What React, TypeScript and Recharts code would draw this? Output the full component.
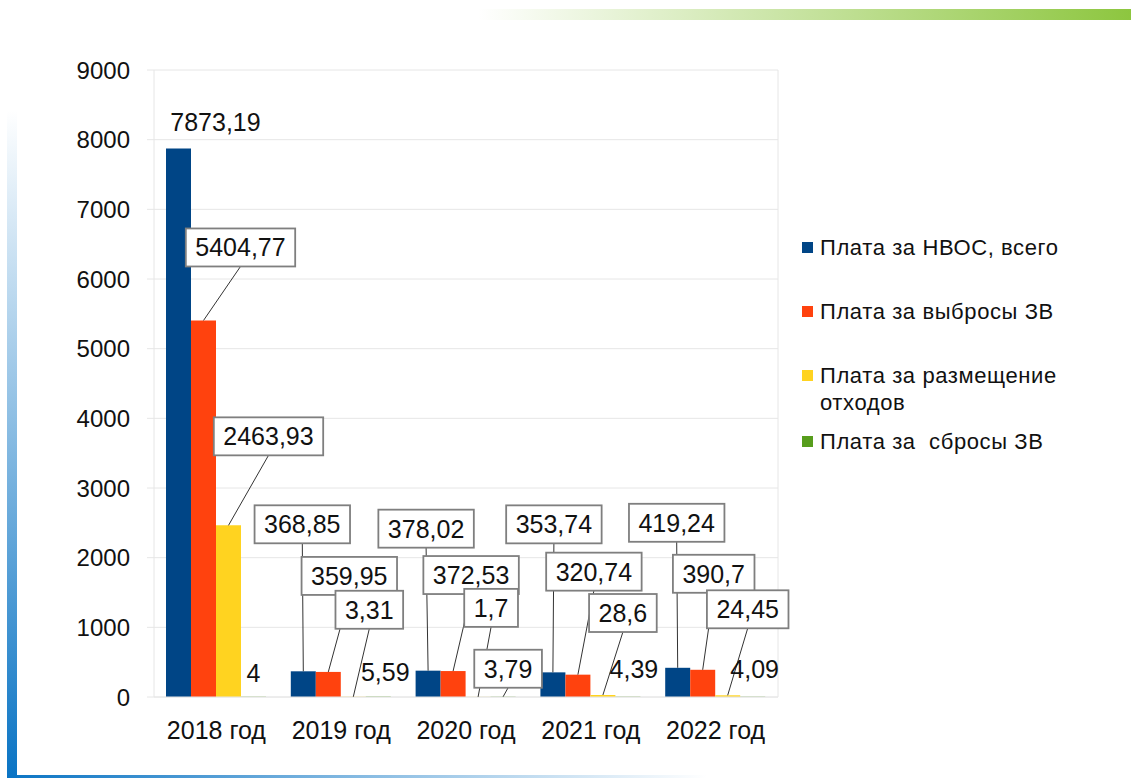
import React from "react";
import {
    BarChart,
    Bar,
    XAxis,
    YAxis,
    CartesianGrid,
    Legend,
    LabelList,
} from "recharts";

const years = ["2018 год", "2019 год", "2020 год", "2021 год", "2022 год"];
const nvosTotal = [7873.19, 368.85, 378.02, 353.74, 419.24];
const emissions = [5404.77, 359.95, 372.53, 320.74, 390.7];
const wastePlacement = [2463.93, 3.31, 1.7, 28.6, 24.45];
const discharges = [4, 5.59, 3.79, 4.39, 4.09];

const seriesNames = [
    "Плата за НВОС, всего",
    "Плата за выбросы ЗВ",
    "Плата за размещение отходов",
    "Плата за  сбросы ЗВ",
];
const seriesKeys = ["nvos", "emissions", "waste", "discharges"];
const seriesColors = ["#004586", "#ff420e", "#ffd320", "#579d1c"];
const yTicks = [0, 1000, 2000, 3000, 4000, 5000, 6000, 7000, 8000, 9000];

const data = years.map((year, i) => ({
    year,
    nvos: nvosTotal[i],
    emissions: emissions[i],
    waste: wastePlacement[i],
    discharges: discharges[i],
}));

const FONT = '"Liberation Sans", Arial, sans-serif';
const LABEL_SIZE = 25;
const BOX_H = 38;

// where each data label sits, relative to the top centre of its bar
type LabelPos = { dx: number; dy: number; boxed: boolean };
const labelPos: LabelPos[][] = [
    [
        { dx: 37, dy: -27, boxed: false },
        { dx: -1, dy: -147, boxed: true },
        { dx: -2, dy: -142, boxed: true },
        { dx: 1, dy: -148, boxed: true },
        { dx: -1, dy: -145, boxed: true },
    ],
    [
        { dx: 37, dy: -73, boxed: true },
        { dx: 21, dy: -96, boxed: true },
        { dx: 18, dy: -96, boxed: true },
        { dx: 16, dy: -103, boxed: true },
        { dx: 11, dy: -96, boxed: true },
    ],
    [
        { dx: 40, dy: -89, boxed: true },
        { dx: 16, dy: -87, boxed: true },
        { dx: 13, dy: -89, boxed: true },
        { dx: 20, dy: -82, boxed: true },
        { dx: 20, dy: -86, boxed: true },
    ],
    [
        { dx: 0, dy: -24, boxed: false },
        { dx: 7, dy: -25, boxed: false },
        { dx: 5, dy: -28, boxed: true },
        { dx: 6, dy: -28, boxed: false },
        { dx: 2, dy: -28, boxed: false },
    ],
];

const legendGaps = [0, 37, 37, 12];

let measureCtx: CanvasRenderingContext2D | null = null;
function textWidth(s: string) {
    if (!measureCtx) {
        measureCtx = document.createElement("canvas").getContext("2d");
    }
    if (!measureCtx) return s.length * LABEL_SIZE * 0.55;
    measureCtx.font = `${LABEL_SIZE}px "Liberation Sans", Arial`;
    return measureCtx.measureText(s).width;
}

const fmt = (v: number) => String(v).replace(".", ",");

function makeLabel(series: number) {
    return (props: any) => {
        const vb = props.viewBox || props;
        const idx = props.index;
        const pos = labelPos[series][idx];
        if (!pos || vb.x == null) return null;
        const cx = vb.x + vb.width / 2;
        const top = vb.y;
        const lx = cx + pos.dx;
        const ly = top + pos.dy;
        const text = fmt(Number(props.value));
        const label = (
            <text
                x={lx}
                y={ly + LABEL_SIZE * 0.36}
                textAnchor="middle"
                fontSize={LABEL_SIZE}
                fontFamily={FONT}
                fill="#111"
            >
                {text}
            </text>
        );
        if (!pos.boxed) return <g>{label}</g>;
        const w = textWidth(text) + 19;
        return (
            <g>
                <line x1={cx} y1={top} x2={lx} y2={ly + BOX_H / 2} stroke="#333" strokeWidth={1} />
                <rect
                    x={lx - w / 2}
                    y={ly - BOX_H / 2}
                    width={w}
                    height={BOX_H}
                    fill="#fff"
                    stroke="#7f7f7f"
                    strokeWidth={1.8}
                />
                {label}
            </g>
        );
    };
}

function renderLegend(props: any) {
    const items = [...(props.payload || [])].sort(
        (a: any, b: any) => seriesNames.indexOf(a.value) - seriesNames.indexOf(b.value)
    );
    return (
        <div
            style={{
                fontFamily: FONT,
                fontSize: 22,
                letterSpacing: 0.6,
                lineHeight: "27px",
                color: "#111",
            }}
        >
            {items.map((item: any, i: number) => (
                <div
                    key={i}
                    style={{ display: "flex", alignItems: "flex-start", marginTop: legendGaps[i] }}
                >
                    <span
                        style={{
                            width: 11,
                            height: 11,
                            marginTop: 8,
                            marginRight: 7,
                            background: item.color,
                            flex: "0 0 auto",
                        }}
                    />
                    <span style={{ whiteSpace: "pre-wrap" }}>{item.value}</span>
                </div>
            ))}
        </div>
    );
}

export default function App() {
    return (
        <div
            style={{
                position: "absolute",
                left: 0,
                top: 0,
                width: 1131,
                height: 778,
                background: "#fff",
                overflow: "hidden",
                fontFamily: FONT,
            }}
        >
            <BarChart
                width={1131}
                height={778}
                data={data}
                margin={{ top: 70, right: 353, bottom: 0, left: 0 }}
                barSize={25}
                barGap={0}
            >
                <CartesianGrid
                    stroke="#e6e6e6"
                    verticalCoordinatesGenerator={({ offset }: any) => [
                        offset.left,
                        offset.left + offset.width,
                    ]}
                />
                <XAxis
                    dataKey="year"
                    height={81}
                    axisLine={{ stroke: "#e6e6e6" }}
                    tickLine={false}
                    tickSize={0}
                    tickMargin={24}
                    tick={{ fill: "#111", fontSize: 25, fontFamily: FONT }}
                    interval={0}
                />
                <YAxis
                    width={154}
                    domain={[0, 9000]}
                    ticks={yTicks}
                    axisLine={false}
                    tickLine={{ stroke: "#e6e6e6" }}
                    tickSize={7}
                    tickMargin={17}
                    tick={{ fill: "#111", fontSize: 24, fontFamily: FONT }}
                />
                <Legend
                    layout="vertical"
                    align="center"
                    verticalAlign="middle"
                    content={renderLegend}
                    wrapperStyle={{ left: 802, top: 234, width: 270 }}
                />
                {seriesKeys.map((key, s) => (
                    <Bar
                        key={key}
                        dataKey={key}
                        name={seriesNames[s]}
                        fill={seriesColors[s]}
                        isAnimationActive={false}
                    >
                        <LabelList dataKey={key} content={makeLabel(s)} />
                    </Bar>
                ))}
            </BarChart>

            {/* slide decorations */}
            <div
                style={{
                    position: "absolute",
                    left: 478,
                    top: 9,
                    width: 653,
                    height: 11,
                    background: "linear-gradient(to right, rgba(141,198,63,0), #8dc63f)",
                }}
            />
            <div
                style={{
                    position: "absolute",
                    left: 7,
                    top: 110,
                    width: 10,
                    height: 668,
                    background: "linear-gradient(to bottom, rgba(0,112,192,0), #0a74c4)",
                }}
            />
            <div
                style={{
                    position: "absolute",
                    left: 7,
                    top: 775,
                    width: 700,
                    height: 3,
                    background: "linear-gradient(to right, #0a74c4, rgba(0,112,192,0))",
                }}
            />
        </div>
    );
}
